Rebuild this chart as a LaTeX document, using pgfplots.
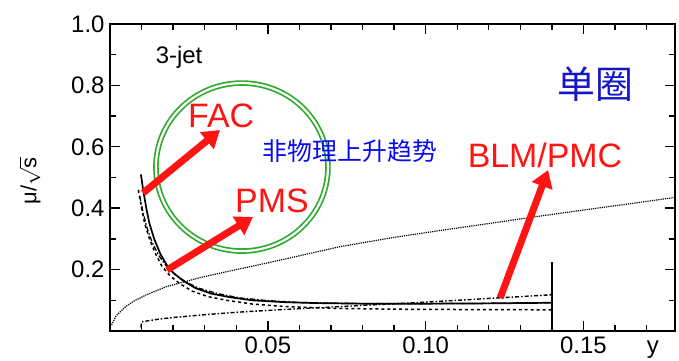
\documentclass[border=0pt]{standalone}
\usepackage{pgfplots}
\pgfplotsset{compat=1.18}
\usepackage{fontspec}
\setmainfont{Liberation Sans}
\newfontfamily\cjk{Noto Sans CJK SC}
\usetikzlibrary{arrows.meta}
\definecolor{arrred}{RGB}{255,20,20}
\definecolor{cnblue}{RGB}{10,10,240}
\definecolor{cnblue2}{RGB}{20,20,200}
\definecolor{circgreen}{RGB}{45,170,45}
\begin{document}
\begin{tikzpicture}
\path[use as bounding box] (0,0) rectangle (679bp,361bp);
\begin{axis}[
  at={(110bp,30bp)}, anchor=south west,
  scale only axis, width=565bp, height=307bp,
  xmin=0, xmax=0.179, ymin=0, ymax=1,
  clip=false,
  axis line style={line width=1.6bp},
  tick align=inside,
  major tick length=10bp, minor tick length=6bp,
  every tick/.style={line width=1.4bp, black},
  xtick={0.05,0.10,0.15},
  xticklabels={0.05,0.10,0.15},
  minor xtick={0.01,0.02,0.03,0.04,0.06,0.07,0.08,0.09,0.11,0.12,0.13,0.14,0.16,0.17},
  ytick={0.2,0.4,0.6,0.8,1.0},
  yticklabels={0.2,0.4,0.6,0.8,1.0},
  minor ytick={0.1,0.3,0.5,0.7,0.9},
  tick label style={font=\fontsize{24}{27}\selectfont},
  /pgf/number format/assume math mode=true,
  yticklabel style={xshift=-2bp},
  xticklabel style={yshift=-2bp},
  ylabel={μ/$\sqrt{\mbox{s}}$},
  ylabel style={font=\fontsize{22}{25}\selectfont, at={(axis description cs:-0.142,0.49)}, anchor=center},
]
% dotted rising curve
\addplot[black, densely dotted, line width=1.2bp] coordinates {
(0.0005,0.02) (0.002,0.05) (0.005,0.08) (0.008,0.10) (0.012,0.12) (0.018,0.145)
(0.029,0.175) (0.04,0.2) (0.05,0.222) (0.06,0.245) (0.073,0.275) (0.09,0.305)
(0.105,0.328) (0.12,0.35) (0.136,0.374) (0.15,0.394) (0.165,0.415) (0.179,0.435)};
% rising dash-dot curve
\addplot[black, dash pattern=on 4bp off 2bp on 1.5bp off 2bp, line width=1.4bp] coordinates {
(0.0098,0.012) (0.010,0.03) (0.015,0.038) (0.02,0.044) (0.03,0.053) (0.04,0.061)
(0.055,0.07) (0.07,0.078) (0.085,0.086) (0.10,0.094) (0.12,0.106) (0.14,0.118)};
% steep solid curve
\addplot[black, line width=1.7bp] coordinates {
(0.0098,0.51) (0.0105,0.46) (0.0115,0.40) (0.0125,0.35) (0.014,0.30) (0.016,0.25)
(0.018,0.215) (0.020,0.19) (0.023,0.165) (0.027,0.14) (0.032,0.122) (0.038,0.11)
(0.045,0.10) (0.055,0.094) (0.065,0.091) (0.08,0.089) (0.10,0.089) (0.12,0.09) (0.14,0.092)};
% steep dashed curve (left)
\addplot[black, dashed, line width=1.5bp] coordinates {
(0.009,0.46) (0.010,0.40) (0.011,0.35) (0.0125,0.30) (0.0145,0.25) (0.0165,0.21)
(0.019,0.18) (0.022,0.155) (0.026,0.13) (0.031,0.112) (0.037,0.10) (0.045,0.088)
(0.055,0.08) (0.07,0.074) (0.09,0.071) (0.11,0.07) (0.14,0.069)};
% steep dash-dot curve
\addplot[black, dash pattern=on 5bp off 2bp on 1.5bp off 2bp, line width=1.3bp] coordinates {
(0.0094,0.44) (0.0104,0.39) (0.0116,0.34) (0.0133,0.29) (0.0155,0.245) (0.018,0.21)
(0.0205,0.185) (0.024,0.16) (0.028,0.14) (0.034,0.122) (0.041,0.108) (0.05,0.099)
(0.06,0.093) (0.075,0.09) (0.10,0.089) (0.12,0.09) (0.14,0.092)};
% vertical cut line
\addplot[black, line width=2.6bp] coordinates {(0.14,0) (0.14,0.225)};
% annotations
\node[font=\fontsize{24}{28}\selectfont] at (axis cs:0.0219,0.892) {3-jet};
\draw[circgreen, line width=1.7bp, double=white, double distance=2.2bp]
  (axis cs:0.0418,0.534) ellipse [x radius=86bp, y radius=84bp];
\draw[arrred, line width=7bp, -{Triangle[length=17bp,width=21bp]}]
  (axis cs:0.01046,0.4495) -- (axis cs:0.03485,0.6547);
\draw[arrred, line width=7bp, -{Triangle[length=17bp,width=21bp]}]
  (axis cs:0.01806,0.1987) -- (axis cs:0.0453,0.3713);
\draw[arrred, line width=7bp, -{Triangle[length=17bp,width=21bp]}]
  (axis cs:0.1236,0.1075) -- (axis cs:0.1388,0.5244);
\node[arrred, font=\fontsize{34}{40}\selectfont] at (axis cs:0.0352,0.700) {FAC};
\node[arrred, font=\fontsize{34}{40}\selectfont] at (axis cs:0.0513,0.4235) {PMS};
\node[arrred, font=\fontsize{34}{40}\selectfont] at (axis cs:0.1378,0.573) {BLM/PMC};
\node[cnblue, font=\cjk\fontsize{25}{30}\selectfont] at (axis cs:0.0760,0.586) {非物理上升趋势};
\node[cnblue2, font=\cjk\fontsize{38}{44}\selectfont] at (axis cs:0.1537,0.8046) {单圈};
\node[font=\fontsize{24}{27}\selectfont, anchor=north] at (axis cs:0.172,0) [yshift=-6bp] {y};
\end{axis}
\end{tikzpicture}
\end{document}
